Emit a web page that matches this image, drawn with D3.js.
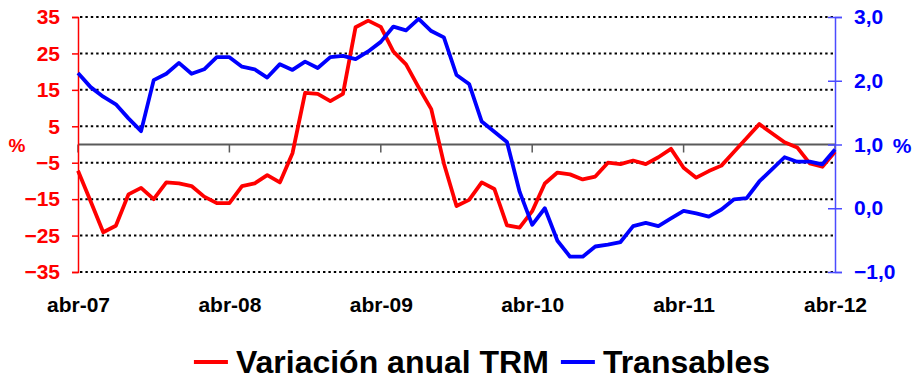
<!DOCTYPE html>
<html>
<head>
<meta charset="utf-8">
<script src="https://cdn.jsdelivr.net/npm/d3@7"></script>
<style>
  html, body { margin: 0; padding: 0; background: #ffffff; }
  svg { display: block; }
  text { font-family: "Liberation Sans", Arial, sans-serif; font-weight: bold; }
</style>
</head>
<body>
<svg id="chart" width="913" height="379"></svg>
<script>
// Monthly categories, April 2007 – April 2012
const months = [
  "abr-07","may-07","jun-07","jul-07","ago-07","sep-07","oct-07","nov-07","dic-07","ene-08","feb-08","mar-08",
  "abr-08","may-08","jun-08","jul-08","ago-08","sep-08","oct-08","nov-08","dic-08","ene-09","feb-09","mar-09",
  "abr-09","may-09","jun-09","jul-09","ago-09","sep-09","oct-09","nov-09","dic-09","ene-10","feb-10","mar-10",
  "abr-10","may-10","jun-10","jul-10","ago-10","sep-10","oct-10","nov-10","dic-10","ene-11","feb-11","mar-11",
  "abr-11","may-11","jun-11","jul-11","ago-11","sep-11","oct-11","nov-11","dic-11","ene-12","feb-12","mar-12",
  "abr-12"
];

// Annual change of the TRM exchange rate (%), left axis
const trm = [
  -7.2, -15.6, -24.1, -22.3, -13.7, -11.9, -15.0, -10.4, -10.7, -11.4, -14.3, -16.1,
  -16.1, -11.4, -10.7, -8.4, -10.4, -2.4, 14.2, 13.9, 11.9, 13.9, 32.2, 34.0,
  32.3, 25.5, 22.0, 15.7, 9.7, -5.2, -16.9, -15.2, -10.4, -12.2, -22.2, -22.8,
  -18.3, -10.7, -7.7, -8.2, -9.6, -8.8, -5.0, -5.4, -4.4, -5.4, -3.5, -1.2,
  -6.4, -9.1, -7.3, -5.8, -2.0, 1.8, 5.6, 3.1, 0.6, -0.8, -5.2, -6.1,
  -2.0
];

// Tradables inflation (%), right axis
const transables = [
  2.12, 1.90, 1.75, 1.63, 1.41, 1.21, 2.01, 2.11, 2.28, 2.11, 2.18, 2.37,
  2.37, 2.22, 2.18, 2.05, 2.26, 2.17, 2.30, 2.20, 2.37, 2.39, 2.34, 2.46,
  2.61, 2.85, 2.79, 2.97, 2.78, 2.68, 2.09, 1.95, 1.36, 1.20, 1.04, 0.26,
  -0.26, 0.00, -0.51, -0.76, -0.76, -0.60, -0.57, -0.53, -0.28, -0.23, -0.28, -0.16,
  -0.04, -0.08, -0.13, -0.02, 0.14, 0.16, 0.42, 0.61, 0.80, 0.73, 0.73, 0.69,
  0.92
];

const leftTicks = [35, 25, 15, 5, -5, -15, -25, -35];
const rightTicks = [3, 2, 1, 0, -1];
const xTickLabels = ["abr-07", "abr-08", "abr-09", "abr-10", "abr-11", "abr-12"];
const seriesNames = ["Variación anual TRM", "Transables"];

const svg = d3.select("#chart");
const plotLeft = 78, plotRight = 835, plotTop = 17, plotBottom = 272;

const x = d3.scalePoint().domain(months).range([plotLeft, plotRight]);
const yL = d3.scaleLinear().domain([-35, 35]).range([plotBottom, plotTop]);
const yR = d3.scaleLinear().domain([-1, 3]).range([plotBottom, plotTop]);

// dotted horizontal gridlines
svg.append("g").selectAll("line").data(leftTicks).join("line")
  .attr("x1", plotLeft + 2).attr("x2", plotRight)
  .attr("y1", d => yL(d)).attr("y2", d => yL(d))
  .attr("stroke", "#000").attr("stroke-width", 2)
  .attr("stroke-dasharray", "2.4 3");

// zero line acting as category axis
svg.append("line")
  .attr("x1", plotLeft).attr("x2", plotRight)
  .attr("y1", yL(0)).attr("y2", yL(0))
  .attr("stroke", "#5a5a5a").attr("stroke-width", 2);
svg.append("g").selectAll("line").data(xTickLabels).join("line")
  .attr("x1", d => x(d)).attr("x2", d => x(d))
  .attr("y1", yL(0)).attr("y2", yL(0) + 8)
  .attr("stroke", "#5a5a5a").attr("stroke-width", 1.5);

// left axis
const gL = svg.append("g").attr("transform", `translate(${plotLeft},0)`)
  .call(d3.axisLeft(yL).tickValues(leftTicks).tickSize(6).tickPadding(12).tickFormat(d3.format("d")));
gL.select(".domain").attr("stroke", "#ff0000").attr("stroke-width", 1.5);
gL.selectAll(".tick line").attr("stroke", "#ff0000").attr("stroke-width", 1.5);
gL.selectAll(".tick text").attr("fill", "#ff0000").style("font-size", "21px")
  .style("font-family", "'Liberation Sans', Arial, sans-serif").style("font-weight", "bold");
svg.append("text").attr("x", 17).attr("y", yL(0) + 1).attr("dy", "0.35em")
  .attr("text-anchor", "middle").attr("fill", "#ff0000").style("font-size", "19px").text("%");

// right axis
const fmtR = d => d3.format(".1f")(d).replace(".", ",");
const gR = svg.append("g").attr("transform", `translate(${plotRight},0)`)
  .call(d3.axisRight(yR).tickValues(rightTicks).tickSize(7).tickPadding(12).tickFormat(fmtR));
gR.select(".domain").attr("stroke", "#4b4bff").attr("stroke-width", 1.5);
gR.selectAll(".tick line").attr("x1", -7).attr("x2", 7).attr("stroke", "#4b4bff").attr("stroke-width", 1.5);
gR.selectAll(".tick text").attr("fill", "#0000ff").style("font-size", "21px")
  .style("font-family", "'Liberation Sans', Arial, sans-serif").style("font-weight", "bold");
svg.append("text").attr("x", 902).attr("y", yR(1) + 1).attr("dy", "0.35em")
  .attr("text-anchor", "middle").attr("fill", "#0000ff").style("font-size", "21px").text("%");

// bottom category labels
const gB = svg.append("g").attr("transform", `translate(0,${plotBottom})`)
  .call(d3.axisBottom(x).tickValues(xTickLabels).tickSize(0).tickPadding(25));
gB.select(".domain").remove();
gB.selectAll(".tick text").attr("fill", "#000").style("font-size", "21px")
  .style("font-family", "'Liberation Sans', Arial, sans-serif").style("font-weight", "bold");

// series lines
const lineL = d3.line().x((d, i) => x(months[i])).y(d => yL(d));
const lineR = d3.line().x((d, i) => x(months[i])).y(d => yR(d));
svg.append("path").datum(trm).attr("d", lineL)
  .attr("fill", "none").attr("stroke", "#ff0000").attr("stroke-width", 3.8).attr("stroke-linejoin", "round");
svg.append("path").datum(transables).attr("d", lineR)
  .attr("fill", "none").attr("stroke", "#0000ff").attr("stroke-width", 3.8).attr("stroke-linejoin", "round");

// legend
const colors = ["#ff0000", "#0000ff"];
const leg = svg.append("g");
let cx = 0;
seriesNames.forEach((name, i) => {
  const item = leg.append("g").attr("transform", `translate(${cx},0)`);
  item.append("line").attr("x1", 0).attr("x2", 34).attr("y1", 0).attr("y2", 0)
    .attr("stroke", colors[i]).attr("stroke-width", 4);
  const t = item.append("text").attr("x", 42).attr("y", 11).attr("fill", "#000")
    .style("font-size", "32px").text(name);
  cx += 42 + t.node().getComputedTextLength() + 12;
});
const legW = cx - 12;
leg.attr("transform", `translate(${482 - legW / 2},362)`);
</script>
</body>
</html>
